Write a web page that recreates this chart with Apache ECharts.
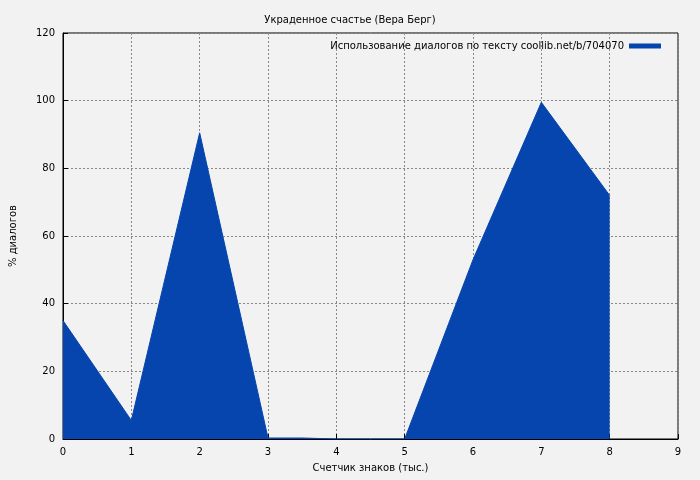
<!DOCTYPE html>
<html><head><meta charset="utf-8">
<script src="https://cdn.jsdelivr.net/npm/echarts@6/dist/echarts.min.js"></script>
<style>html,body{margin:0;background:#f2f2f2}#c{width:700px;height:480px}</style>
</head><body><div id="c"></div>
<script>
const xValues = [0, 1, 2, 3, 3.5, 4, 5, 6, 7, 8];
const yValues = [35, 5.5, 90.5, 0.3, 0.3, 0, 0, 53, 99.5, 72];
const seriesName = 'Использование диалогов по тексту coollib.net/b/704070';
const chart = echarts.init(document.getElementById('c'));
const font = 'DejaVu Sans';
chart.setOption({
  backgroundColor: '#f2f2f2',
  animation: false,
  title: {text: 'Украденное счастье (Вера Берг)', left: 'center', top: 10,
    textStyle: {fontSize: 10, fontWeight: 'normal', color: '#000', fontFamily: font}},
  legend: {right: 34, top: 36, align: 'right', itemWidth: 32, itemHeight: 5, icon: 'rect',
    textStyle: {fontSize: 10, color: '#000', fontFamily: font}, data: [seriesName]},
  grid: {left: 61, right: 22, top: 33, bottom: 41, show: true, borderColor: '#000', borderWidth: 1},
  xAxis: {type: 'value', min: 0, max: 9, interval: 1, name: 'Счетчик знаков (тыс.)',
    nameLocation: 'middle', nameGap: 24, nameTextStyle: {fontSize: 10, color: '#000', fontFamily: font},
    axisLine: {lineStyle: {color: '#000'}}, axisTick: {inside: true, lineStyle: {color: '#000'}},
    axisLabel: {fontSize: 10, color: '#000', fontFamily: font},
    splitLine: {lineStyle: {color: '#888', type: [2, 2]}}},
  yAxis: {type: 'value', min: 0, max: 120, interval: 20, name: '% диалогов',
    nameLocation: 'middle', nameGap: 45, nameTextStyle: {fontSize: 10, color: '#000', fontFamily: font},
    axisLine: {show: true, lineStyle: {color: '#000'}}, axisTick: {inside: true, lineStyle: {color: '#000'}},
    axisLabel: {fontSize: 10, color: '#000', fontFamily: font},
    splitLine: {lineStyle: {color: '#888', type: [2, 2]}}},
  series: [{name: seriesName, type: 'line', symbol: 'none', color: '#0645ad',
    lineStyle: {width: 1, color: '#0645ad'}, areaStyle: {color: '#0645ad', opacity: 1},
    data: xValues.map((x, i) => [x, yValues[i]])}]
});
</script></body></html>
